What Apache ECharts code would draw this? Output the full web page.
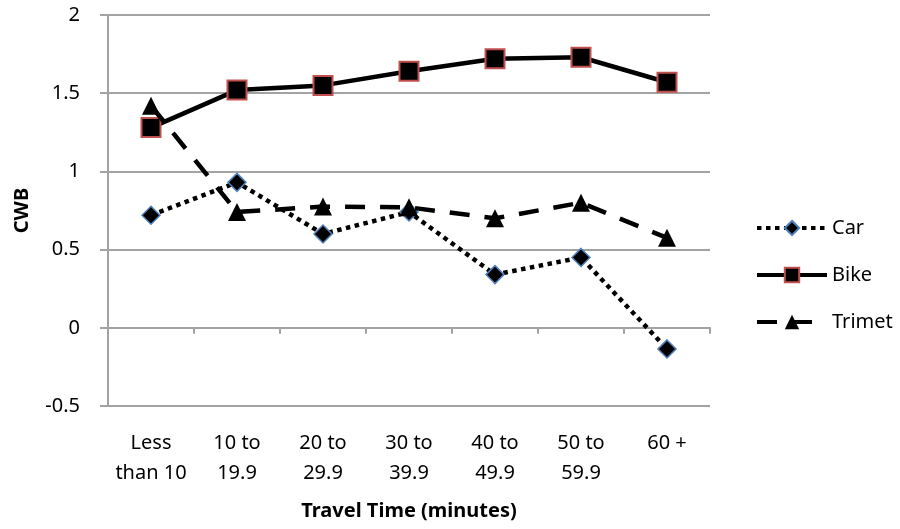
<!DOCTYPE html>
<html>
<head>
<meta charset="utf-8">
<script src="https://cdn.jsdelivr.net/npm/echarts@6/dist/echarts.min.js"></script>
<style>
  html, body { margin: 0; padding: 0; background: #fff; }
  #chart { width: 900px; height: 529px; }
</style>
</head>
<body>
<div id="chart"></div>
<script>
// Travel-time bins on the horizontal axis
const categories = ['Less\nthan 10', '10 to\n19.9', '20 to\n29.9', '30 to\n39.9', '40 to\n49.9', '50 to\n59.9', '60 +'];

// CWB per mode
const carValues    = [0.72, 0.93, 0.60, 0.74, 0.34, 0.45, -0.135];
const bikeValues   = [1.28, 1.52, 1.55, 1.64, 1.72, 1.73, 1.57];
const trimetValues = [1.42, 0.74, 0.775, 0.77, 0.70, 0.80, 0.575];

// Value axis ticks
const yTicks = [-0.5, 0, 0.5, 1, 1.5, 2];

const FONT = 'Noto Sans';
const GRAY = '#a3a3a3';

const chart = echarts.init(document.getElementById('chart'), null, { renderer: 'canvas' });

chart.setOption({
  animation: false,
  backgroundColor: '#ffffff',
  textStyle: { fontFamily: FONT },
  grid: { left: 108, right: 190, top: 15, bottom: 123, containLabel: false },
  legend: {
    orient: 'vertical',
    left: 750,
    top: 213,
    itemWidth: 70,
    itemHeight: 18,
    itemGap: 27,
    lineStyle: { width: 4 },
    textStyle: { fontFamily: FONT, fontSize: 20, color: '#000' },
    data: ['Car', 'Bike', 'Trimet']
  },
  xAxis: [
    {
      // labels and title along the bottom edge
      type: 'category',
      data: categories,
      position: 'bottom',
      boundaryGap: true,
      axisLine: { show: false, onZero: false },
      axisTick: { show: false },
      splitLine: { show: false },
      axisLabel: {
        interval: 0,
        margin: 22,
        fontFamily: FONT,
        fontSize: 20,
        lineHeight: 30,
        color: '#000'
      },
      name: 'Travel Time (minutes)',
      nameLocation: 'middle',
      nameGap: 95,
      nameTextStyle: { fontFamily: FONT, fontSize: 20, fontWeight: 'bold', color: '#000' }
    },
    {
      // the zero line with its category ticks
      type: 'category',
      data: categories,
      position: 'bottom',
      boundaryGap: true,
      axisLine: { show: true, onZero: true, lineStyle: { color: GRAY, width: 2 } },
      axisTick: { show: true, interval: 0, length: 6, lineStyle: { color: GRAY, width: 2 } },
      axisLabel: { show: false },
      splitLine: { show: false }
    }
  ],
  yAxis: {
    type: 'value',
    min: yTicks[0],
    max: yTicks[yTicks.length - 1],
    interval: 0.5,
    axisLine: { show: true, lineStyle: { color: GRAY, width: 2 } },
    axisTick: { show: true, length: 8, lineStyle: { color: GRAY, width: 2 } },
    splitLine: { show: true, lineStyle: { color: GRAY, width: 2 } },
    axisLabel: {
      margin: 28,
      fontFamily: FONT,
      fontSize: 20,
      color: '#000',
      formatter: v => String(v)
    },
    name: 'CWB',
    nameLocation: 'middle',
    nameGap: 76,
    nameRotate: 90,
    nameTextStyle: { fontFamily: FONT, fontSize: 20, fontWeight: 'bold', color: '#000' }
  },
  series: [
    {
      name: 'Car',
      type: 'line',
      xAxisIndex: 0,
      data: carValues,
      symbol: 'diamond',
      symbolSize: 18,
      lineStyle: { color: '#000', width: 4.5, type: [4.5, 4.5] },
      itemStyle: { color: '#000', borderColor: '#4f81bd', borderWidth: 1.5 },
      z: 2
    },
    {
      name: 'Bike',
      type: 'line',
      xAxisIndex: 0,
      data: bikeValues,
      symbol: 'rect',
      symbolSize: 19,
      lineStyle: { color: '#000', width: 4.5, type: 'solid' },
      itemStyle: { color: '#000', borderColor: '#c0504d', borderWidth: 2 },
      z: 3
    },
    {
      name: 'Trimet',
      type: 'line',
      xAxisIndex: 0,
      data: trimetValues,
      symbol: 'triangle',
      symbolSize: 18,
      lineStyle: { color: '#000', width: 4.5, type: [20, 15] },
      itemStyle: { color: '#000' },
      z: 4
    }
  ]
});
</script>
</body>
</html>
